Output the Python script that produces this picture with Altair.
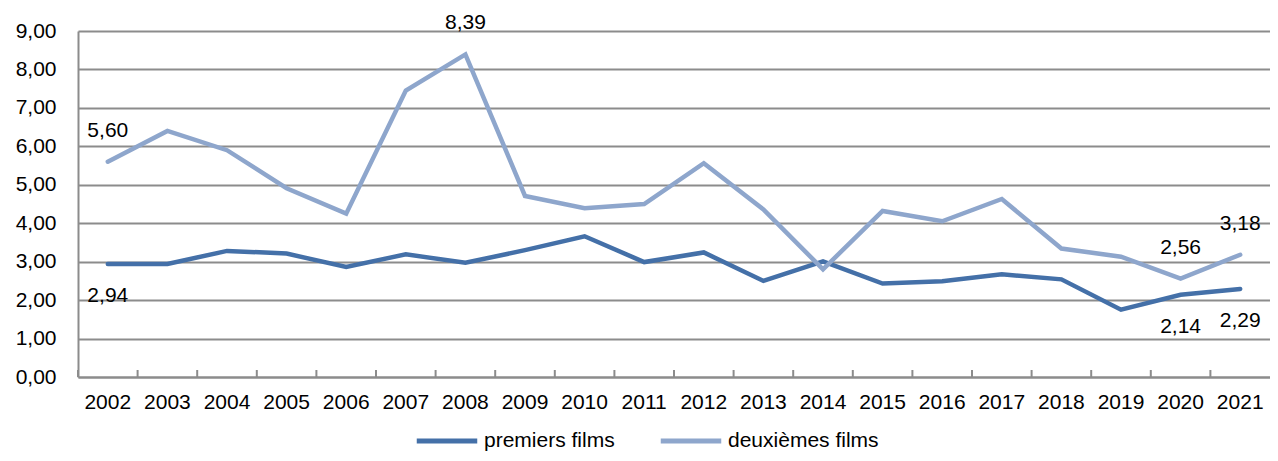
import altair as alt
import pandas as pd

years = ["2002", "2003", "2004", "2005", "2006", "2007", "2008", "2009", "2010", "2011",
         "2012", "2013", "2014", "2015", "2016", "2017", "2018", "2019", "2020", "2021"]
premiers = [2.94, 2.94, 3.28, 3.21, 2.86, 3.19, 2.97, 3.30, 3.66, 2.99,
            3.24, 2.50, 3.01, 2.43, 2.49, 2.67, 2.54, 1.75, 2.14, 2.29]
deuxiemes = [5.60, 6.40, 5.90, 4.91, 4.25, 7.45, 8.39, 4.71, 4.39, 4.50,
             5.56, 4.36, 2.80, 4.32, 4.05, 4.63, 3.34, 3.13, 2.56, 3.18]
series_names = ["premiers films", "deuxièmes films"]
colors = ["#4470a8", "#8ea6cc"]
y_ticks = [0, 1, 2, 3, 4, 5, 6, 7, 8, 9]
labels_deuxiemes_years = ["2002", "2008", "2020", "2021"]
labels_premiers_years = ["2002", "2020", "2021"]

FONT = "Liberation Sans"
FS = 21
GRID = "#8c8c8c"
W, H = 1192, 346

lines_df = pd.DataFrame(
    [{"year": y, "series": series_names[0], "value": v} for y, v in zip(years, premiers)]
    + [{"year": y, "series": series_names[1], "value": v} for y, v in zip(years, deuxiemes)]
)
above_df = pd.DataFrame(
    [{"year": y, "value": deuxiemes[years.index(y)]} for y in labels_deuxiemes_years]
)
below_df = pd.DataFrame(
    [{"year": y, "value": premiers[years.index(y)]} for y in labels_premiers_years]
)
ticks_df = pd.DataFrame({"year": years, "value": [0.0] * len(years)})

xscale = alt.Scale(type="band", domain=years, paddingInner=0, paddingOuter=0)
yscale = alt.Scale(domain=[0, 9], nice=False, zero=True)

x_axis = alt.Axis(labelAngle=0, labelFont=FONT, labelFontSize=FS, labelColor="black",
                  labelPadding=14, ticks=False, tickSize=0, domainColor=GRID,
                  domainWidth=2, grid=False, bandPosition=0.5, labelOverlap=False)
y_axis = alt.Axis(values=y_ticks,
                  labelExpr="replace(format(datum.value, '.2f'), '.', ',')",
                  labelFont=FONT, labelFontSize=FS, labelColor="black",
                  labelPadding=22, ticks=False, tickSize=0, domainColor=GRID,
                  domainWidth=2, grid=True, gridColor=GRID, gridWidth=2,
                  labelOverlap=False)


def xe(bp=0.5):
    return alt.X("year:N", scale=xscale, bandPosition=bp, title=None, axis=x_axis)


def ye():
    return alt.Y("value:Q", scale=yscale, title=None, axis=y_axis)


lines = alt.Chart(lines_df).mark_line(strokeWidth=4.5, strokeCap="round", strokeJoin="miter").encode(
    x=xe(),
    y=ye(),
    color=alt.Color(
        "series:N",
        scale=alt.Scale(domain=series_names, range=colors),
        sort=series_names,
        legend=alt.Legend(
            title=None, orient="none", direction="horizontal",
            legendX=336, legendY=377,
            symbolType="stroke", symbolSize=3660, symbolStrokeWidth=5,
            labelFont=FONT, labelFontSize=FS, labelColor="black",
            labelOffset=4, columnPadding=35, labelLimit=400,
        ),
    ),
)

ticks = alt.Chart(ticks_df).mark_rule(color=GRID, strokeWidth=2).encode(
    x=xe(0),
    y=alt.value(H - 7),
    y2=alt.value(H),
)

label_text = "replace(format(datum.value, '.2f'), '.', ',')"

above = alt.Chart(above_df).transform_calculate(label=label_text).mark_text(
    dy=-31, font=FONT, fontSize=FS, color="black", baseline="middle", align="center"
).encode(
    x=xe(),
    y=ye(),
    text="label:N",
)

below = alt.Chart(below_df).transform_calculate(label=label_text).mark_text(
    dy=32, font=FONT, fontSize=FS, color="black", baseline="middle", align="center"
).encode(
    x=xe(),
    y=ye(),
    text="label:N",
)

chart = alt.layer(lines, ticks, above, below).properties(
    width=W, height=H,
    padding={"left": 70, "top": 23, "right": 0, "bottom": 76},
    autosize=alt.AutoSizeParams(type="none"),
    background="white",
).configure_view(stroke=None)

chart.save("out.html", embed_options={"renderer": "svg", "actions": False})
